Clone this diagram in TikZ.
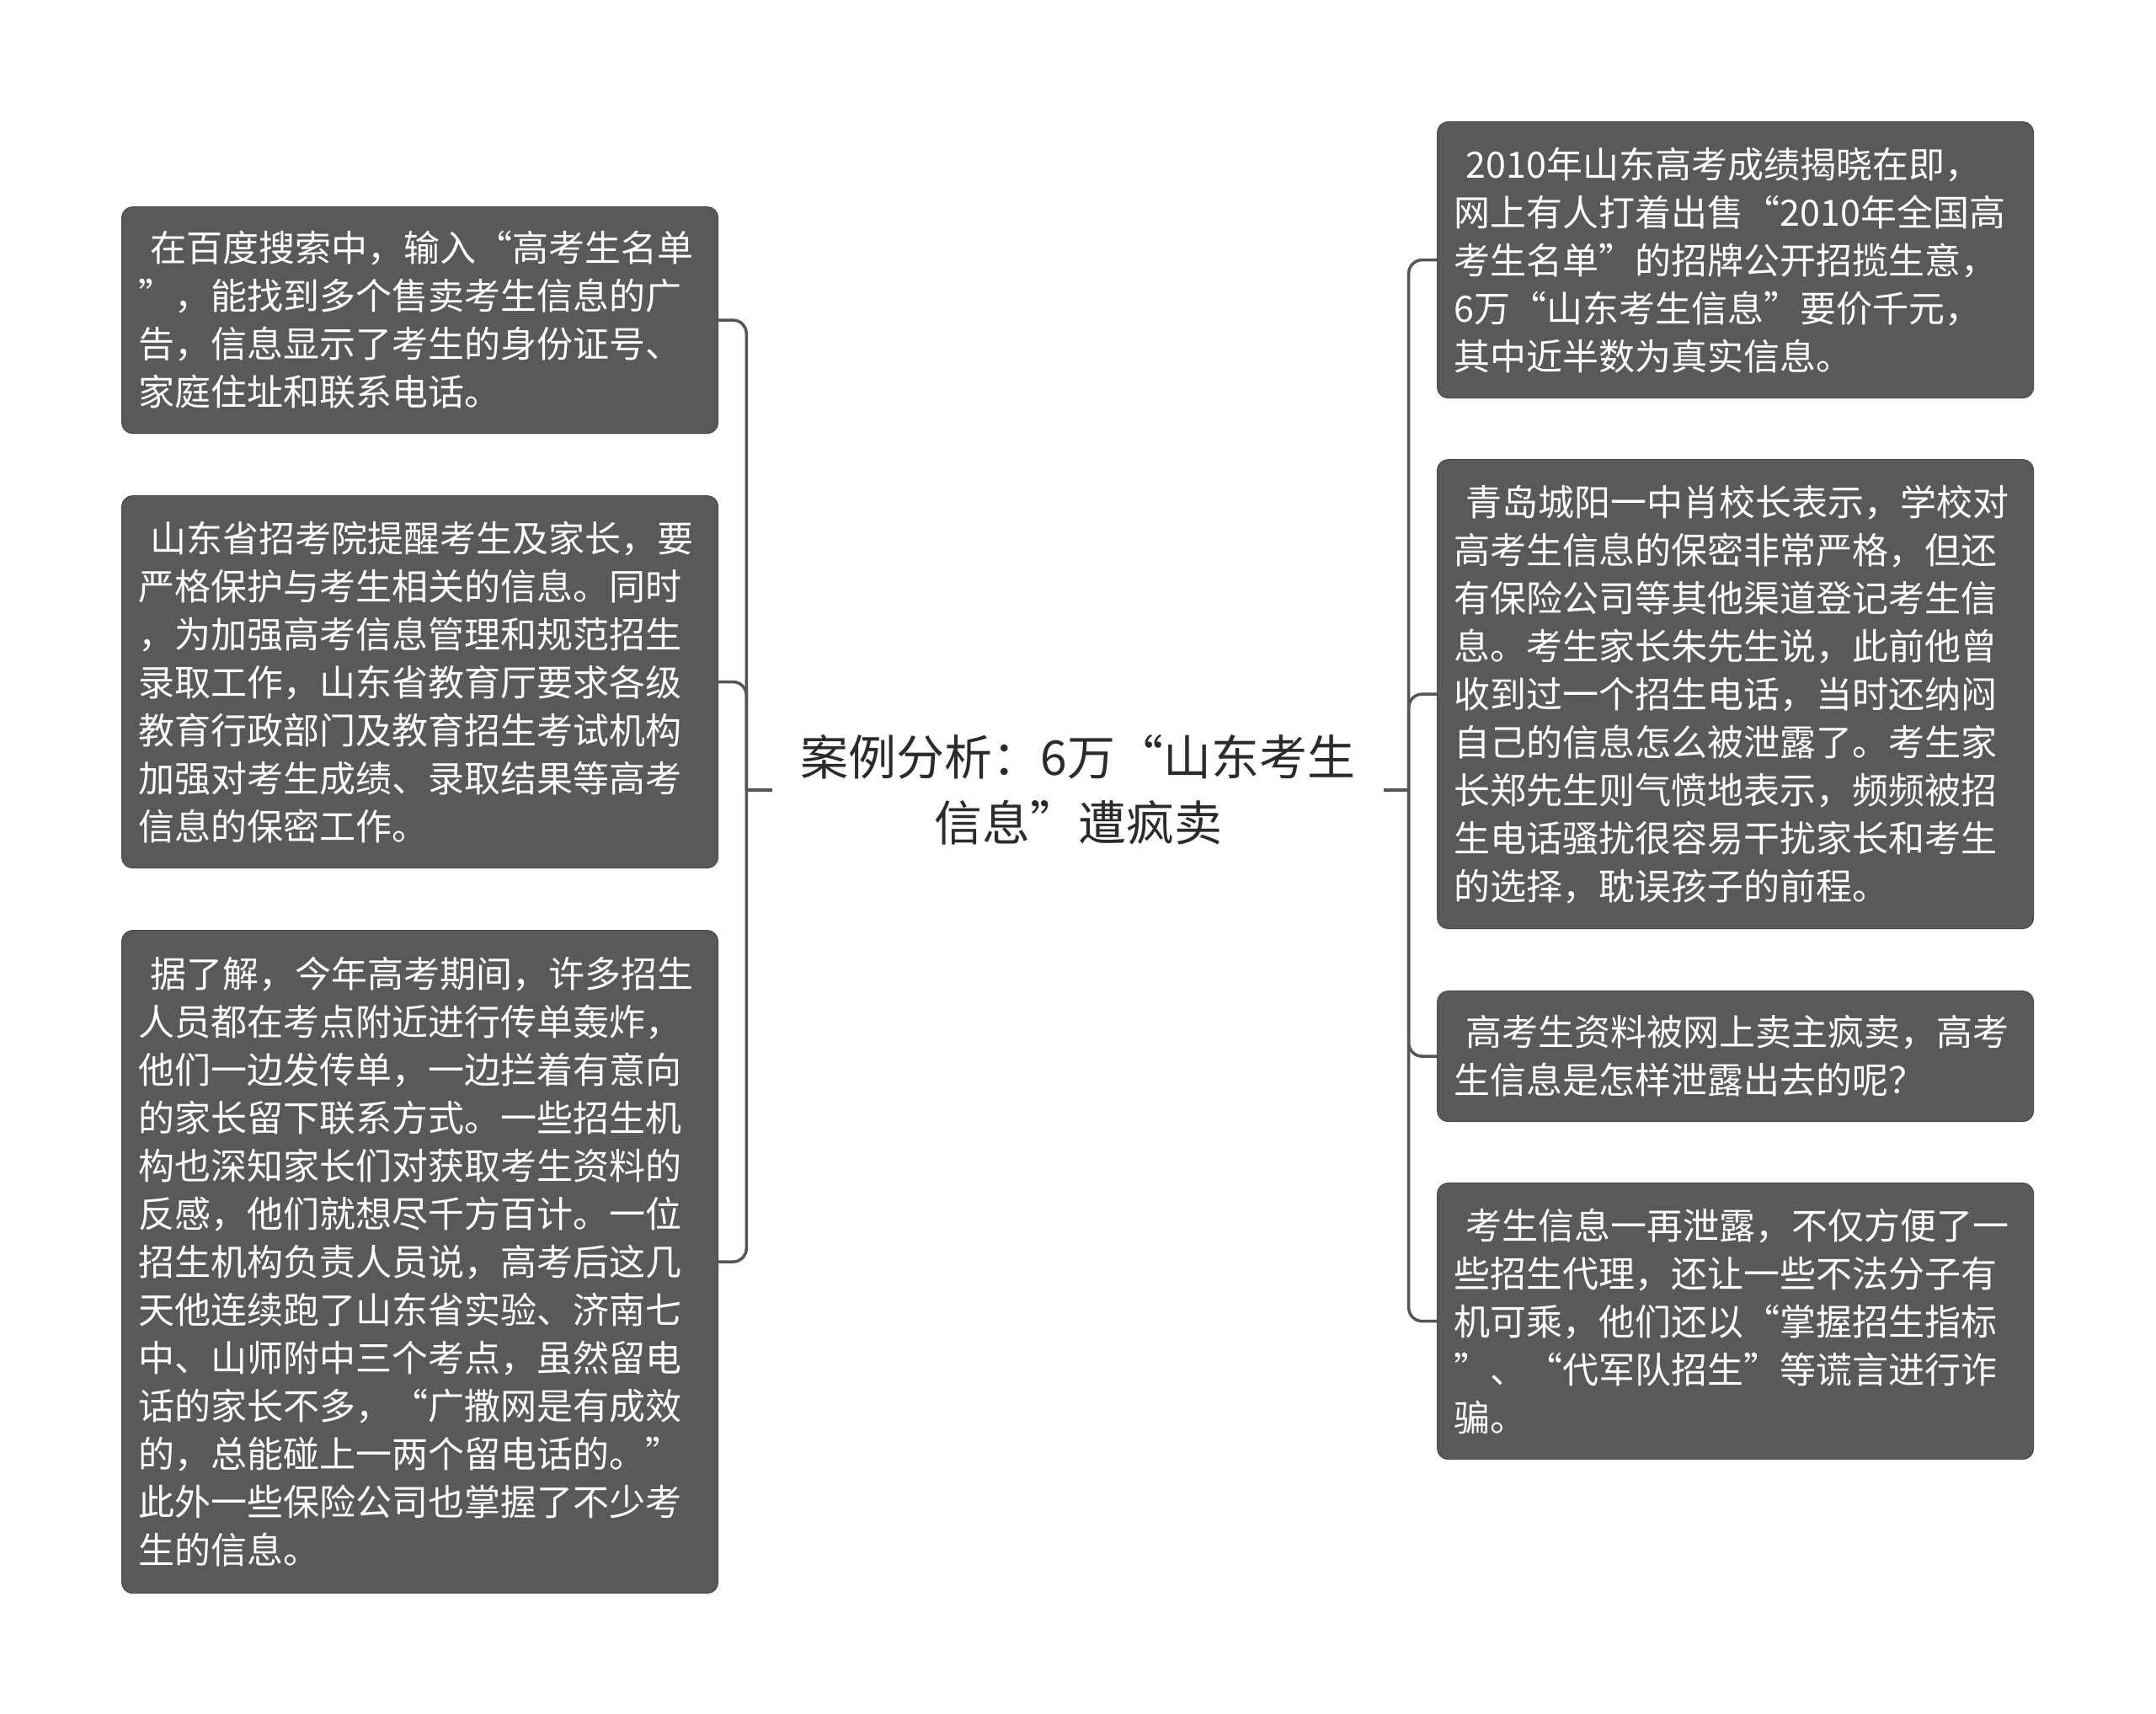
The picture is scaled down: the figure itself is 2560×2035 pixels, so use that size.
\documentclass[tikz,border=0pt]{standalone}
\usepackage{fontspec}
\newfontfamily\cjk{Noto Sans CJK SC}
\definecolor{boxfill}{HTML}{595959}
\definecolor{boxline}{HTML}{4C4C4C}
\definecolor{connc}{HTML}{555555}
\definecolor{roottext}{HTML}{2B2B2B}
\tikzset{
  leaf/.style={draw=boxline, line width=1.2pt, fill=boxfill, rounded corners=13pt,
    text=white, font=\cjk\fontsize{43pt}{57pt}\selectfont, align=left,
    text width=668pt, inner xsep=20pt, inner ysep=0pt, anchor=north west},
  rootnode/.style={font=\cjk\fontsize{57pt}{78pt}\selectfont, text=roottext,
    align=center, minimum width=725pt, inner sep=0pt},
  conn/.style={draw=connc, line width=3.5pt},
  branch/.style={conn, rounded corners=16pt}
}
\begin{document}
\begin{tikzpicture}[x=1pt,y=-1pt]
\useasboundingbox[fill=white] (0,0) rectangle (2560,2035);

\node[rootnode] (root) at (1280,938) {案例分析：6万“山东考生\\信息”遭疯卖};

\node[leaf, minimum height=269pt] (L1) at (144,245) {\hspace*{0.33em}在百度搜索中，输入“高考生名单\\”，能找到多个售卖考生信息的广\\告，信息显示了考生的身份证号、\\家庭住址和联系电话。};

\node[leaf, minimum height=442pt] (L2) at (144,588) {\hspace*{0.33em}山东省招考院提醒考生及家长，要\\严格保护与考生相关的信息。同时\\，为加强高考信息管理和规范招生\\录取工作，山东省教育厅要求各级\\教育行政部门及教育招生考试机构\\加强对考生成绩、录取结果等高考\\信息的保密工作。};

\node[leaf, minimum height=787pt] (L3) at (144,1104) {\hspace*{0.33em}据了解，今年高考期间，许多招生\\人员都在考点附近进行传单轰炸，\\他们一边发传单，一边拦着有意向\\的家长留下联系方式。一些招生机\\构也深知家长们对获取考生资料的\\反感，他们就想尽千方百计。一位\\招生机构负责人员说，高考后这几\\天他连续跑了山东省实验、济南七\\中、山师附中三个考点，虽然留电\\话的家长不多，“广撒网是有成效\\的，总能碰上一两个留电话的。”\\此外一些保险公司也掌握了不少考\\生的信息。};

\node[leaf, minimum height=328pt] (R1) at (1706,144) {\hspace*{0.33em}2010年山东高考成绩揭晓在即，\\网上有人打着出售“2010年全国高\\考生名单”的招牌公开招揽生意，\\6万“山东考生信息”要价千元，\\其中近半数为真实信息。};

\node[leaf, minimum height=557pt] (R2) at (1706,545) {\hspace*{0.33em}青岛城阳一中肖校长表示，学校对\\高考生信息的保密非常严格，但还\\有保险公司等其他渠道登记考生信\\息。考生家长朱先生说，此前他曾\\收到过一个招生电话，当时还纳闷\\自己的信息怎么被泄露了。考生家\\长郑先生则气愤地表示，频频被招\\生电话骚扰很容易干扰家长和考生\\的选择，耽误孩子的前程。};

\node[leaf, minimum height=155pt] (R3) at (1706,1176) {\hspace*{0.33em}高考生资料被网上卖主疯卖，高考\\生信息是怎样泄露出去的呢？};

\node[leaf, minimum height=328pt] (R4) at (1706,1404) {\hspace*{0.33em}考生信息一再泄露，不仅方便了一\\些招生代理，还让一些不法分子有\\机可乘，他们还以“掌握招生指标\\”、“代军队招生”等谎言进行诈\\骗。};

\coordinate (tl) at ([xshift=-31pt]root.west);
\coordinate (tr) at ([xshift=30pt]root.east);
\draw[conn] (root.west) -- (tl);
\draw[conn] (root.east) -- (tr);
\foreach \b in {L1,L2,L3}{
  \draw[branch] (tl) |- (\b.east);
}
\foreach \b in {R1,R2,R3,R4}{
  \draw[branch] (tr) |- (\b.west);
}
\end{tikzpicture}
\end{document}
